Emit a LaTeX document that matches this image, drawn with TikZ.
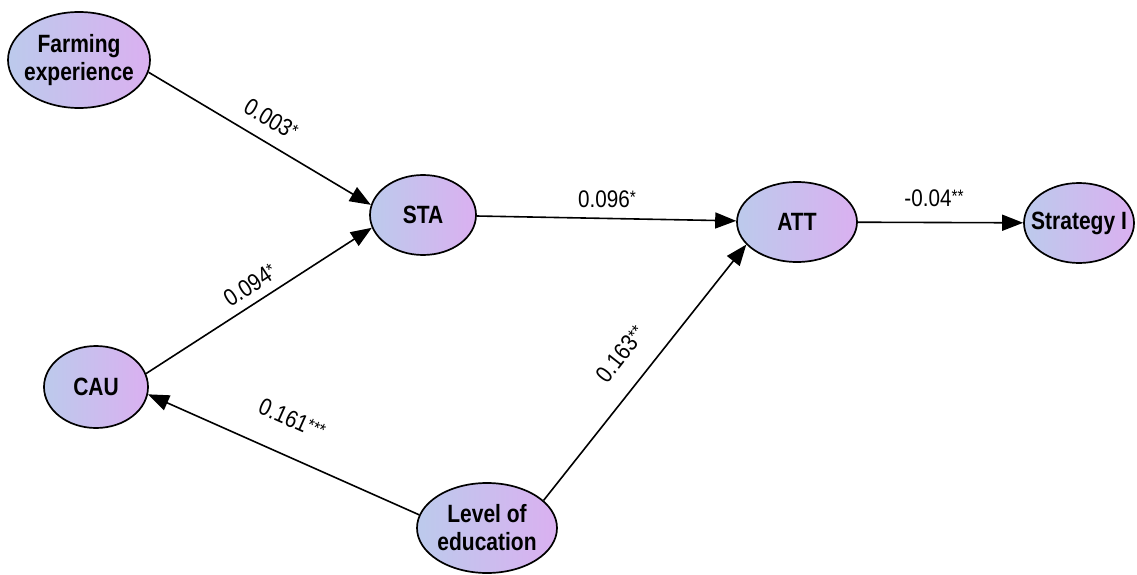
\documentclass[tikz,border=0pt]{standalone}
\usepackage{fontspec}
\setmainfont{Liberation Sans}
\newfontfamily\nodefont[FakeStretch=0.84]{Liberation Sans Bold}
\newfontfamily\labfont[FakeStretch=0.86]{Liberation Sans}
\usetikzlibrary{arrows.meta,shapes.geometric}
\definecolor{gl}{RGB}{188,202,236}
\definecolor{gr}{RGB}{218,176,240}
\tikzset{
  lv/.style={ellipse, draw=black, line width=1.7pt, left color=gl, right color=gr,
    inner sep=0pt},
  lvtext/.style={inner sep=0pt, font=\nodefont\fontsize{25}{28}\selectfont, align=center},
  arr/.style={line width=1.6pt, -{Triangle[length=21pt,width=16pt]}},
  lab/.style={font=\labfont\fontsize{24}{26}\selectfont, inner sep=1pt}
}
\newcommand{\st}[1]{\raisebox{4pt}{\fontsize{18}{18}\selectfont #1}}
\begin{document}
\begin{tikzpicture}[x=1pt,y=-1pt]
\useasboundingbox[fill=white] (0,0) rectangle (1137,575);
\node[lv, minimum width=142pt, minimum height=96pt] (fe) at (79,60) {};
\node[lvtext] (fe-t) at (fe) {Farming\\experience};
\node[lv, minimum width=106pt, minimum height=80pt] (sta) at (423,215) {};
\node[lvtext] (sta-t) at (sta) {STA};
\node[lv, minimum width=120pt, minimum height=80pt] (att) at (797,222) {};
\node[lvtext] (att-t) at (att) {ATT};
\node[lv, minimum width=110pt, minimum height=80pt] (str) at (1079,223) {};
\node[lvtext] (str-t) at (str) {Strategy I};
\node[lv, minimum width=104pt, minimum height=82pt] (cau) at (96,387) {};
\node[lvtext] (cau-t) at (cau) {CAU};
\node[lv, minimum width=140pt, minimum height=90pt] (edu) at (487,528) {};
\node[lvtext] (edu-t) at (edu) {Level of\\education};

\draw[arr] (fe.-10) -- (sta.169);
\draw[arr] (cau.15) -- (sta.194);
\draw[arr] (sta) -- (att);
\draw[arr] (att) -- (str);
\draw[arr] (edu.26) -- (att.204);
\draw[arr] (edu.169) -- (cau.-8);

\node[lab, rotate=-31] (l1) at (271,119) {0.003\st{*}};
\node[lab, rotate=33] (l2) at (250,285) {0.094\st{*}};
\node[lab] (l3) at (607,199) {0.096\st{*}};
\node[lab] (l4) at (934,198) {-0.04\st{**}};
\node[lab, rotate=52] (l5) at (621,354) {0.163\st{**}};
\node[lab, rotate=-24] (l6) at (292,419) {0.161\st{***}};
\end{tikzpicture}
\end{document}
